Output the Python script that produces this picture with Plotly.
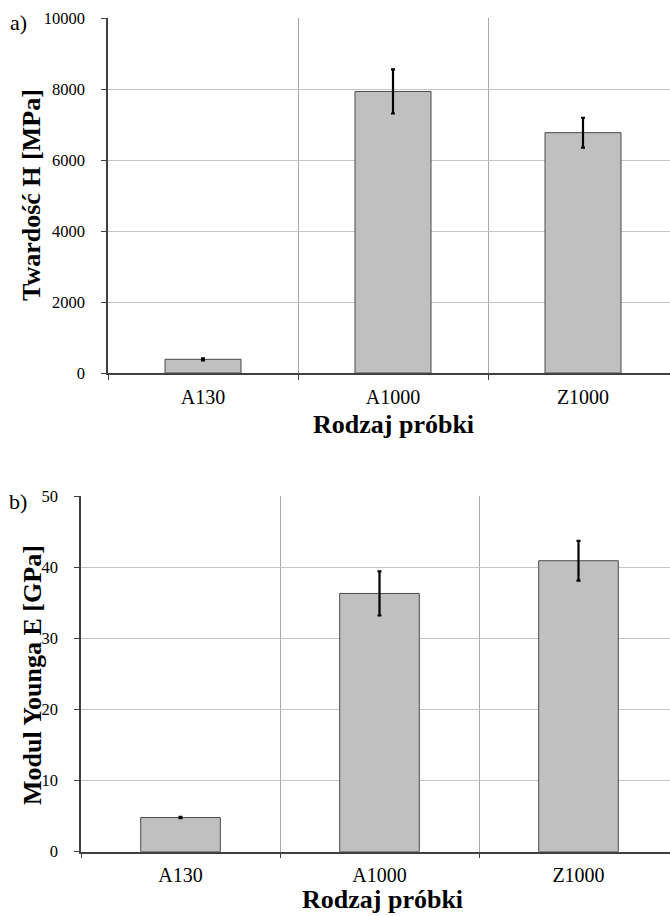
import plotly.graph_objects as go

categories = ["A130", "A1000", "Z1000"]
hardness = [385, 7930, 6770]
hardness_err = [30, 620, 420]
young = [4.8, 36.3, 40.9]
young_err = [0.1, 3.1, 2.8]
y_ticks_a = [0, 2000, 4000, 6000, 8000, 10000]
y_ticks_b = [0, 10, 20, 30, 40, 50]

W, H = 670, 916
SERIF = "Liberation Serif"

fig = go.Figure()

bar_style = dict(marker=dict(color="#c0c0c0", line=dict(color="#4a4a4a", width=1)),
                 width=0.4, showlegend=False)

fig.add_trace(go.Bar(x=categories, y=hardness, xaxis="x", yaxis="y",
                     error_y=dict(type="data", array=hardness_err, color="black",
                                  thickness=2.2, width=2),
                     **bar_style))
fig.add_trace(go.Bar(x=categories, y=young, xaxis="x2", yaxis="y2",
                     error_y=dict(type="data", array=young_err, color="black",
                                  thickness=2.2, width=2),
                     **bar_style))

def xaxis(left, cat_w, anchor):
    return dict(
        domain=[left / W, 1], anchor=anchor, type="category",
        categoryorder="array", categoryarray=categories,
        range=[-0.5, -0.5 + (W - left) / cat_w],
        tickson="boundaries", ticks="outside", ticklen=5, tickcolor="#404040",
        ticklabelstandoff=5,
        showgrid=True, gridcolor="#a8a8a8", gridwidth=1,
        showline=True, linecolor="#404040", linewidth=1.5,
        tickfont=dict(family=SERIF, size=20, color="black"),
        zeroline=False, fixedrange=True, automargin=False,
    )

def yaxis(top, bottom, rng, ticks, anchor):
    return dict(
        domain=[1 - bottom / H, 1 - top / H], anchor=anchor,
        range=rng, tickvals=ticks, ticktext=[str(t) for t in ticks],
        ticks="outside", ticklen=5, tickcolor="#404040",
        ticklabelstandoff=13,
        showgrid=True, gridcolor="#c4c4c4", gridwidth=1.2,
        showline=True, linecolor="#404040", linewidth=1.5,
        tickfont=dict(family=SERIF, size=16.5, color="black"),
        zeroline=False, fixedrange=True, automargin=False,
    )

fig.update_layout(
    template="none",
    width=W, height=H,
    margin=dict(l=0, r=0, t=0, b=0, pad=0, autoexpand=False),
    paper_bgcolor="white", plot_bgcolor="white",
    xaxis=xaxis(108, 190, "y"),
    yaxis=yaxis(18, 373, [0, 10000], y_ticks_a, "x"),
    xaxis2=xaxis(81, 199, "y2"),
    yaxis2=yaxis(496, 851.7, [0, 50], y_ticks_b, "x2"),
    showlegend=False,
)

ann = []
def add_text(text, x, y, size, bold=False, angle=0):
    ann.append(dict(text=f"<b>{text}</b>" if bold else text,
                    x=x / W, y=1 - y / H, xref="paper", yref="paper",
                    showarrow=False, textangle=angle,
                    font=dict(family=SERIF, size=size, color="black"),
                    xanchor="center", yanchor="middle"))

add_text("a)", 18, 22, 22)
add_text("b)", 18, 501, 22)
add_text("Twardość H [MPa]", 32, 195, 26, bold=True, angle=-90)
add_text("Modul Younga E [GPa]", 32, 675, 26, bold=True, angle=-90)
add_text("Rodzaj próbki", 393, 425, 26, bold=True)
add_text("Rodzaj próbki", 382, 899, 26, bold=True)
fig.update_layout(annotations=ann)

fig.write_html("out.html", config={"displayModeBar": False},
               post_script="document.body.style.margin='0';document.body.style.overflow='hidden';")
